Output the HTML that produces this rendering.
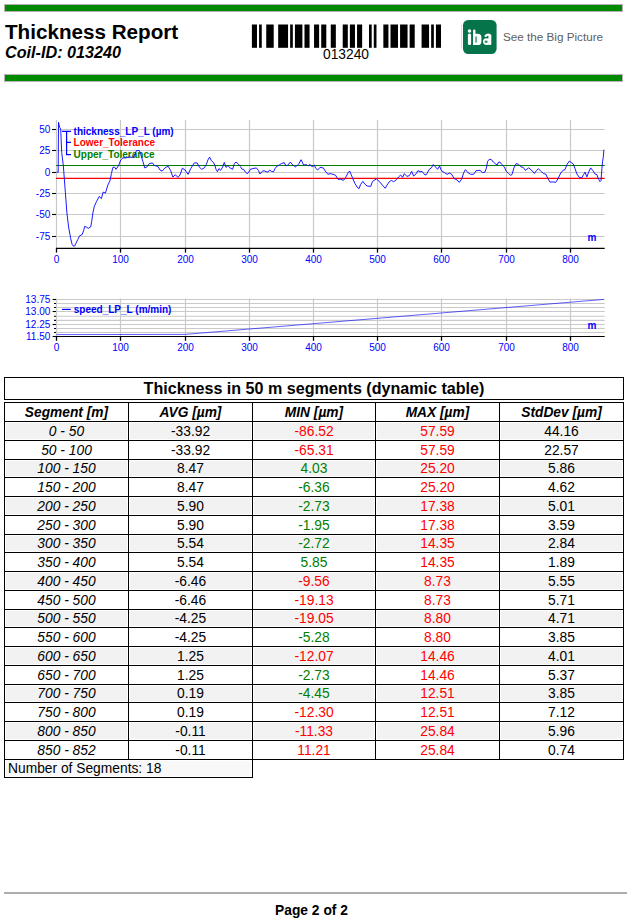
<!DOCTYPE html>
<html><head><meta charset="utf-8"><title>Thickness Report</title>
<style>
html,body{margin:0;padding:0;background:#fff}
body{width:630px;height:923px;position:relative;overflow:hidden;font-family:"Liberation Sans",sans-serif;color:#000}
.abs,.box,.ttl,.bg,.ln,.th,.td,.seg,.ft{position:absolute;white-space:nowrap}
.gbar{position:absolute;left:4px;width:617px;height:6px;background:#008a00;border:1px solid #b9b0b9;box-sizing:content-box}
.box{border:1px solid #000}
.ttl{text-align:center;font-weight:bold;font-size:16.1px}
.bg{background:#f2f2f2}
.ln{background:#000}
.th{text-align:center;font-weight:bold;font-style:italic;font-size:13.75px;height:18px;line-height:18px}
.td{text-align:center;font-size:13.8px;height:18px;line-height:18px}
.seg{text-align:center;font-style:italic;font-size:13.8px;height:18px;line-height:18px}
.ft{font-size:13.8px;height:18px;line-height:18px}
svg{position:absolute;left:0;top:0}
svg text{font-family:"Liberation Sans",sans-serif}
.ax{font-size:10px;fill:#0000ff}
.lg{font-size:10px;font-weight:bold}
</style></head><body>
<div class="gbar" style="top:4px"></div>
<div class="gbar" style="top:74px"></div>
<div class="abs" style="left:5px;top:19.5px;font-size:20.65px;font-weight:bold;line-height:23px">Thickness Report</div>
<div class="abs" style="left:5px;top:43.3px;font-size:16.2px;font-weight:bold;font-style:italic;line-height:18px">Coil-ID: 013240</div>
<div class="abs" style="left:296px;top:47.4px;width:100px;text-align:center;font-size:13.8px;line-height:16px">013240</div>
<div class="abs" style="left:503px;top:30px;font-size:11.7px;line-height:14px;color:#606060">See the Big Picture</div>
<svg width="630" height="923" viewBox="0 0 630 923">
<g fill="#000"><rect x="251.90" y="24.5" width="5.08" height="23.3"/><rect x="259.07" y="24.5" width="2.69" height="23.3"/><rect x="266.24" y="24.5" width="7.47" height="23.3"/><rect x="278.19" y="24.5" width="9.86" height="23.3"/><rect x="290.14" y="24.5" width="2.69" height="23.3"/><rect x="294.92" y="24.5" width="7.47" height="23.3"/><rect x="304.48" y="24.5" width="5.08" height="23.3"/><rect x="314.04" y="24.5" width="5.08" height="23.3"/><rect x="321.21" y="24.5" width="5.08" height="23.3"/><rect x="330.77" y="24.5" width="5.08" height="23.3"/><rect x="342.72" y="24.5" width="5.08" height="23.3"/><rect x="349.89" y="24.5" width="5.08" height="23.3"/><rect x="357.06" y="24.5" width="5.08" height="23.3"/><rect x="369.01" y="24.5" width="2.69" height="23.3"/><rect x="373.79" y="24.5" width="2.69" height="23.3"/><rect x="383.35" y="24.5" width="5.08" height="23.3"/><rect x="390.52" y="24.5" width="7.47" height="23.3"/><rect x="400.08" y="24.5" width="7.47" height="23.3"/><rect x="409.64" y="24.5" width="5.08" height="23.3"/><rect x="421.59" y="24.5" width="7.47" height="23.3"/><rect x="431.15" y="24.5" width="2.69" height="23.3"/><rect x="435.93" y="24.5" width="5.08" height="23.3"/></g>
<line x1="461.6" y1="25" x2="461.6" y2="48.5" stroke="#d0d0d0" stroke-width="0.8"/>
<rect x="463" y="20" width="33.6" height="34" rx="5.2" fill="#06744b"/>
<g fill="#fff" stroke="none">
<circle cx="469.5" cy="30.9" r="1.75"/>
<rect x="467.9" y="33.6" width="3.2" height="11.4" rx="1.5"/>
<rect x="473" y="29.5" width="2.5" height="15.5" rx="1.2"/>
<rect x="473" y="33.8" width="8.4" height="11.2" rx="3.6"/>
<rect x="473" y="40" width="3" height="5" rx="1"/>
<rect x="488.4" y="34.6" width="2.9" height="10.4" rx="1.2"/>
<ellipse cx="486.7" cy="41.6" rx="3.7" ry="3.4"/>
</g>
<rect x="475.3" y="36.2" width="1.5" height="6.6" rx="0.7" fill="#06744b" opacity="0.75"/>
<path d="M485.6,35.9 Q487.6,33.7 490,35.4" fill="none" stroke="#fff" stroke-width="2.3" stroke-linecap="round"/>
<ellipse cx="486.1" cy="41.7" rx="1.6" ry="1.2" fill="#06744b" opacity="0.8"/>
<line x1="120.5" y1="120" x2="120.5" y2="248" stroke="#c9c9c9" stroke-width="1.2"/><line x1="185.5" y1="120" x2="185.5" y2="248" stroke="#c9c9c9" stroke-width="1.2"/><line x1="249.5" y1="120" x2="249.5" y2="248" stroke="#c9c9c9" stroke-width="1.2"/><line x1="313.5" y1="120" x2="313.5" y2="248" stroke="#c9c9c9" stroke-width="1.2"/><line x1="377.5" y1="120" x2="377.5" y2="248" stroke="#c9c9c9" stroke-width="1.2"/><line x1="441.5" y1="120" x2="441.5" y2="248" stroke="#c9c9c9" stroke-width="1.2"/><line x1="506.5" y1="120" x2="506.5" y2="248" stroke="#c9c9c9" stroke-width="1.2"/><line x1="570.5" y1="120" x2="570.5" y2="248" stroke="#c9c9c9" stroke-width="1.2"/><line x1="56" y1="129.5" x2="604.7" y2="129.5" stroke="#c9c9c9" stroke-width="1.2"/><line x1="56" y1="150.5" x2="604.7" y2="150.5" stroke="#c9c9c9" stroke-width="1.2"/><line x1="56" y1="172.5" x2="604.7" y2="172.5" stroke="#c9c9c9" stroke-width="1.2"/><line x1="56" y1="193.5" x2="604.7" y2="193.5" stroke="#c9c9c9" stroke-width="1.2"/><line x1="56" y1="214.5" x2="604.7" y2="214.5" stroke="#c9c9c9" stroke-width="1.2"/><line x1="56" y1="236.5" x2="604.7" y2="236.5" stroke="#c9c9c9" stroke-width="1.2"/><line x1="56.5" y1="120" x2="56.5" y2="248" stroke="#c9c9c9" stroke-width="1.2"/><line x1="56" y1="165.5" x2="604.7" y2="165.5" stroke="#008000" stroke-width="1.1"/><line x1="56" y1="178.4" x2="604.7" y2="178.4" stroke="#ff0000" stroke-width="1.1"/><line x1="56" y1="248.3" x2="604.7" y2="248.3" stroke="#000" stroke-width="1.2"/><line x1="56.5" y1="248" x2="56.5" y2="252.6" stroke="#000" stroke-width="1.3"/><line x1="120.5" y1="248" x2="120.5" y2="252.6" stroke="#000" stroke-width="1.3"/><line x1="185.5" y1="248" x2="185.5" y2="252.6" stroke="#000" stroke-width="1.3"/><line x1="249.5" y1="248" x2="249.5" y2="252.6" stroke="#000" stroke-width="1.3"/><line x1="313.5" y1="248" x2="313.5" y2="252.6" stroke="#000" stroke-width="1.3"/><line x1="377.5" y1="248" x2="377.5" y2="252.6" stroke="#000" stroke-width="1.3"/><line x1="441.5" y1="248" x2="441.5" y2="252.6" stroke="#000" stroke-width="1.3"/><line x1="506.5" y1="248" x2="506.5" y2="252.6" stroke="#000" stroke-width="1.3"/><line x1="570.5" y1="248" x2="570.5" y2="252.6" stroke="#000" stroke-width="1.3"/><line x1="52" y1="129.5" x2="56" y2="129.5" stroke="#000" stroke-width="1.1"/><line x1="52" y1="150.5" x2="56" y2="150.5" stroke="#000" stroke-width="1.1"/><line x1="52" y1="172.5" x2="56" y2="172.5" stroke="#000" stroke-width="1.1"/><line x1="52" y1="193.5" x2="56" y2="193.5" stroke="#000" stroke-width="1.1"/><line x1="52" y1="214.5" x2="56" y2="214.5" stroke="#000" stroke-width="1.1"/><line x1="52" y1="236.5" x2="56" y2="236.5" stroke="#000" stroke-width="1.1"/><text x="50.30" y="133.20" class="ax" text-anchor="end">50</text><text x="50.30" y="154.20" class="ax" text-anchor="end">25</text><text x="50.30" y="176.20" class="ax" text-anchor="end">0</text><text x="50.30" y="197.20" class="ax" text-anchor="end">-25</text><text x="50.30" y="218.20" class="ax" text-anchor="end">-50</text><text x="50.30" y="240.20" class="ax" text-anchor="end">-75</text><text x="56.50" y="262.80" class="ax" text-anchor="middle">0</text><text x="120.50" y="262.80" class="ax" text-anchor="middle">100</text><text x="185.50" y="262.80" class="ax" text-anchor="middle">200</text><text x="249.50" y="262.80" class="ax" text-anchor="middle">300</text><text x="313.50" y="262.80" class="ax" text-anchor="middle">400</text><text x="377.50" y="262.80" class="ax" text-anchor="middle">500</text><text x="441.50" y="262.80" class="ax" text-anchor="middle">600</text><text x="506.50" y="262.80" class="ax" text-anchor="middle">700</text><text x="570.50" y="262.80" class="ax" text-anchor="middle">800</text><path d="M62,131.4 H71 M66.6,131.4 V154.6 H71 M66.6,142.4 H71" fill="none" stroke="#0000ff" stroke-width="1.2"/><text x="73.60" y="134.90" class="lg" fill="#0000ff">thickness_LP_L (µm)</text><text x="73.60" y="146.00" class="lg" fill="#ff0000">Lower_Tolerance</text><text x="73.60" y="157.60" class="lg" fill="#008000">Upper_Tolerance</text><text x="587.60" y="240.80" class="lg" fill="#0000ff">m</text><path d="M56.5,172.2 L58.2,172.2 L58.5,122.2 L59.0,124.5 L59.8,127.7 L60.7,129.0 L61.7,152.4 L63.3,165.4 L64.3,178.6 L65.4,192.9 L66.9,212.9 L68.6,227.0 L70.7,238.6 L72.1,244.3 L73.0,245.8 L74.0,246.2 L74.8,245.8 L75.7,243.8 L77.9,239.3 L79.7,235.7 L82.1,234.6 L83.6,230.7 L84.7,226.4 L86.4,227.1 L88.3,228.3 L90.7,226.9 L91.7,221.4 L92.9,212.9 L94.3,206.4 L96.4,201.7 L99.3,196.4 L101.4,198.6 L103.1,192.1 L105.4,193.1 L107.9,185.0 L110.0,180.7 L111.4,173.6 L112.9,167.4 L114.6,167.1 L116.0,169.3 L118.6,165.7 L120.7,160.0 L122.9,157.9 L125.7,157.9 L129.3,156.9 L132.1,157.4 L134.3,156.4 L136.4,150.7 L139.3,150.4 L140.7,154.3 L142.9,161.4 L144.7,167.9 L146.7,167.1 L149.3,163.6 L152.4,162.9 L154.3,165.4 L157.9,166.4 L160.0,170.0 L162.1,171.1 L165.0,167.9 L168.1,166.1 L170.7,170.7 L172.9,177.1 L175.3,174.7 L177.9,177.4 L180.0,175.0 L182.4,168.1 L185.0,170.0 L188.1,174.3 L190.7,168.6 L194.3,162.9 L197.1,162.9 L199.3,167.1 L201.7,169.3 L204.3,167.9 L206.4,164.3 L207.9,160.0 L209.6,157.1 L211.4,160.7 L213.6,162.6 L215.0,165.7 L216.0,169.3 L217.4,171.7 L218.9,168.6 L220.7,170.3 L222.6,167.1 L224.3,162.4 L226.0,167.4 L227.9,165.7 L230.0,167.9 L232.6,169.3 L234.3,163.6 L236.0,162.1 L238.3,164.0 L240.3,166.4 L242.1,169.3 L243.6,169.3 L245.4,172.1 L247.1,173.6 L248.9,172.1 L250.3,169.3 L252.9,168.6 L256.4,167.9 L258.6,170.7 L260.0,174.0 L262.1,171.4 L264.0,170.7 L266.0,171.7 L267.9,172.1 L269.7,170.0 L271.4,171.4 L273.6,171.7 L275.0,168.6 L277.1,166.0 L279.3,165.0 L281.4,163.6 L284.3,162.6 L285.7,165.7 L287.6,165.4 L290.3,162.1 L292.9,165.0 L295.3,166.9 L298.6,164.3 L301.1,159.7 L303.6,165.0 L306.4,164.6 L308.1,166.0 L310.0,164.3 L312.1,166.9 L314.3,165.0 L315.7,168.3 L317.6,170.0 L320.0,167.4 L323.3,167.9 L325.3,171.1 L327.9,174.3 L330.0,173.6 L332.9,174.3 L335.7,175.4 L337.9,179.3 L340.7,179.3 L343.6,180.3 L345.7,177.4 L347.9,173.1 L349.6,171.0 L351.1,174.3 L352.9,178.9 L355.0,183.6 L357.1,187.1 L359.0,188.6 L360.7,184.3 L362.9,181.4 L365.0,184.3 L367.1,186.0 L370.7,186.4 L372.5,181.4 L376.4,178.9 L379.3,181.4 L382.9,185.7 L385.3,188.3 L387.1,185.0 L389.3,181.7 L391.4,180.4 L393.6,181.7 L396.4,179.7 L398.6,176.9 L400.7,175.0 L402.6,177.4 L404.3,173.6 L406.9,176.4 L409.3,175.7 L411.7,171.4 L413.6,176.0 L415.7,174.3 L417.9,170.7 L420.0,171.7 L422.1,171.4 L425.0,175.0 L426.4,174.6 L429.3,169.3 L431.4,167.9 L433.3,164.6 L435.7,167.1 L437.6,169.3 L439.6,166.0 L441.4,170.7 L444.3,172.6 L447.1,174.3 L449.3,173.1 L451.4,174.0 L454.3,178.6 L457.1,180.0 L459.3,182.4 L461.9,178.6 L463.6,172.9 L465.4,169.6 L467.9,172.6 L470.7,174.3 L473.6,174.3 L476.1,170.7 L480.0,170.3 L482.4,172.6 L485.0,172.1 L486.4,167.9 L487.6,161.4 L489.3,159.3 L491.4,159.6 L493.3,162.1 L495.7,164.0 L497.1,165.0 L498.6,162.1 L500.0,162.1 L501.9,164.6 L504.3,166.9 L506.1,171.1 L508.6,173.6 L510.7,175.4 L512.1,174.3 L513.9,167.9 L516.1,163.6 L518.6,164.3 L521.0,166.9 L523.3,167.4 L525.4,170.3 L528.6,167.9 L531.4,170.0 L534.4,173.4 L536.4,170.7 L538.3,168.7 L540.7,171.1 L543.6,173.6 L545.7,174.0 L547.9,178.6 L550.0,182.1 L552.9,181.9 L555.7,182.4 L557.9,178.9 L560.7,173.1 L562.9,170.4 L565.0,169.6 L567.1,164.3 L569.3,161.1 L571.4,162.6 L573.3,164.0 L575.0,168.6 L576.9,174.0 L579.3,177.4 L581.7,177.9 L583.6,174.6 L585.0,172.1 L586.9,176.9 L588.6,172.1 L590.7,167.9 L592.9,170.7 L595.0,174.0 L596.9,174.7 L598.6,179.3 L600.0,181.7 L601.0,180.7 L601.9,168.6 L602.6,161.4 L603.3,157.1 L603.9,149.7" fill="none" stroke="#0000ff" stroke-width="0.9" stroke-linejoin="round"/>
<line x1="120.5" y1="298.5" x2="120.5" y2="336.5" stroke="#c9c9c9" stroke-width="1.2"/><line x1="185.5" y1="298.5" x2="185.5" y2="336.5" stroke="#c9c9c9" stroke-width="1.2"/><line x1="249.5" y1="298.5" x2="249.5" y2="336.5" stroke="#c9c9c9" stroke-width="1.2"/><line x1="313.5" y1="298.5" x2="313.5" y2="336.5" stroke="#c9c9c9" stroke-width="1.2"/><line x1="377.5" y1="298.5" x2="377.5" y2="336.5" stroke="#c9c9c9" stroke-width="1.2"/><line x1="441.5" y1="298.5" x2="441.5" y2="336.5" stroke="#c9c9c9" stroke-width="1.2"/><line x1="506.5" y1="298.5" x2="506.5" y2="336.5" stroke="#c9c9c9" stroke-width="1.2"/><line x1="570.5" y1="298.5" x2="570.5" y2="336.5" stroke="#c9c9c9" stroke-width="1.2"/><line x1="56" y1="299.5" x2="604.7" y2="299.5" stroke="#c9c9c9" stroke-width="1.1"/><line x1="56" y1="303.5" x2="604.7" y2="303.5" stroke="#c9c9c9" stroke-width="1.1"/><line x1="56" y1="307.5" x2="604.7" y2="307.5" stroke="#c9c9c9" stroke-width="1.1"/><line x1="56" y1="311.5" x2="604.7" y2="311.5" stroke="#c9c9c9" stroke-width="1.1"/><line x1="56" y1="316.3" x2="604.7" y2="316.3" stroke="#c9c9c9" stroke-width="1.1"/><line x1="56" y1="320.4" x2="604.7" y2="320.4" stroke="#c9c9c9" stroke-width="1.1"/><line x1="56" y1="324.5" x2="604.7" y2="324.5" stroke="#c9c9c9" stroke-width="1.1"/><line x1="56" y1="328.5" x2="604.7" y2="328.5" stroke="#c9c9c9" stroke-width="1.1"/><line x1="56" y1="332.5" x2="604.7" y2="332.5" stroke="#c9c9c9" stroke-width="1.1"/><line x1="56.5" y1="298.5" x2="56.5" y2="336.5" stroke="#c9c9c9" stroke-width="1.2"/><line x1="56" y1="336.5" x2="604.7" y2="336.5" stroke="#000" stroke-width="1.2"/><line x1="56.5" y1="336" x2="56.5" y2="340.8" stroke="#000" stroke-width="1.3"/><line x1="120.5" y1="336" x2="120.5" y2="340.8" stroke="#000" stroke-width="1.3"/><line x1="185.5" y1="336" x2="185.5" y2="340.8" stroke="#000" stroke-width="1.3"/><line x1="249.5" y1="336" x2="249.5" y2="340.8" stroke="#000" stroke-width="1.3"/><line x1="313.5" y1="336" x2="313.5" y2="340.8" stroke="#000" stroke-width="1.3"/><line x1="377.5" y1="336" x2="377.5" y2="340.8" stroke="#000" stroke-width="1.3"/><line x1="441.5" y1="336" x2="441.5" y2="340.8" stroke="#000" stroke-width="1.3"/><line x1="506.5" y1="336" x2="506.5" y2="340.8" stroke="#000" stroke-width="1.3"/><line x1="570.5" y1="336" x2="570.5" y2="340.8" stroke="#000" stroke-width="1.3"/><line x1="52.6" y1="299.5" x2="56" y2="299.5" stroke="#000" stroke-width="1.1"/><line x1="54" y1="303.5" x2="56" y2="303.5" stroke="#000" stroke-width="1.1"/><line x1="54" y1="307.5" x2="56" y2="307.5" stroke="#000" stroke-width="1.1"/><line x1="52.6" y1="311.5" x2="56" y2="311.5" stroke="#000" stroke-width="1.1"/><line x1="54" y1="316.3" x2="56" y2="316.3" stroke="#000" stroke-width="1.1"/><line x1="54" y1="320.4" x2="56" y2="320.4" stroke="#000" stroke-width="1.1"/><line x1="52.6" y1="324.5" x2="56" y2="324.5" stroke="#000" stroke-width="1.1"/><line x1="54" y1="328.5" x2="56" y2="328.5" stroke="#000" stroke-width="1.1"/><line x1="54" y1="332.5" x2="56" y2="332.5" stroke="#000" stroke-width="1.1"/><line x1="52.6" y1="336.5" x2="56" y2="336.5" stroke="#000" stroke-width="1.1"/><text x="50.30" y="303.20" class="ax" text-anchor="end">13.75</text><text x="50.30" y="315.20" class="ax" text-anchor="end">13.00</text><text x="50.30" y="328.20" class="ax" text-anchor="end">12.25</text><text x="50.30" y="340.20" class="ax" text-anchor="end">11.50</text><text x="56.50" y="350.80" class="ax" text-anchor="middle">0</text><text x="120.50" y="350.80" class="ax" text-anchor="middle">100</text><text x="185.50" y="350.80" class="ax" text-anchor="middle">200</text><text x="249.50" y="350.80" class="ax" text-anchor="middle">300</text><text x="313.50" y="350.80" class="ax" text-anchor="middle">400</text><text x="377.50" y="350.80" class="ax" text-anchor="middle">500</text><text x="441.50" y="350.80" class="ax" text-anchor="middle">600</text><text x="506.50" y="350.80" class="ax" text-anchor="middle">700</text><text x="570.50" y="350.80" class="ax" text-anchor="middle">800</text><line x1="62" y1="309.4" x2="70.8" y2="309.4" stroke="#0000ff" stroke-width="1.2"/><text x="73.80" y="313.00" class="lg" fill="#0000ff">speed_LP_L (m/min)</text><text x="587.60" y="329.30" class="lg" fill="#0000ff">m</text><path d="M56.5,334.6 L185,334.4 L604,299.4" fill="none" stroke="#0000ff" stroke-width="0.9" opacity="0.7"/>
</svg>
<div class="box" style="left:4px;top:377px;width:618px;height:21px"></div><div class="ttl" style="left:4px;top:377.2px;width:620px;height:22px;line-height:22px">Thickness in 50 m segments (dynamic table)</div><div class="bg" style="left:6px;top:423px;width:121px;height:16px"></div><div class="bg" style="left:130px;top:423px;width:121px;height:16px"></div><div class="bg" style="left:254px;top:423px;width:120px;height:16px"></div><div class="bg" style="left:377px;top:423px;width:121px;height:16px"></div><div class="bg" style="left:501px;top:423px;width:121px;height:16px"></div><div class="bg" style="left:6px;top:461px;width:121px;height:15px"></div><div class="bg" style="left:130px;top:461px;width:121px;height:15px"></div><div class="bg" style="left:254px;top:461px;width:120px;height:15px"></div><div class="bg" style="left:377px;top:461px;width:121px;height:15px"></div><div class="bg" style="left:501px;top:461px;width:121px;height:15px"></div><div class="bg" style="left:6px;top:498px;width:121px;height:16px"></div><div class="bg" style="left:130px;top:498px;width:121px;height:16px"></div><div class="bg" style="left:254px;top:498px;width:120px;height:16px"></div><div class="bg" style="left:377px;top:498px;width:121px;height:16px"></div><div class="bg" style="left:501px;top:498px;width:121px;height:16px"></div><div class="bg" style="left:6px;top:536px;width:121px;height:15px"></div><div class="bg" style="left:130px;top:536px;width:121px;height:15px"></div><div class="bg" style="left:254px;top:536px;width:120px;height:15px"></div><div class="bg" style="left:377px;top:536px;width:121px;height:15px"></div><div class="bg" style="left:501px;top:536px;width:121px;height:15px"></div><div class="bg" style="left:6px;top:573px;width:121px;height:16px"></div><div class="bg" style="left:130px;top:573px;width:121px;height:16px"></div><div class="bg" style="left:254px;top:573px;width:120px;height:16px"></div><div class="bg" style="left:377px;top:573px;width:121px;height:16px"></div><div class="bg" style="left:501px;top:573px;width:121px;height:16px"></div><div class="bg" style="left:6px;top:611px;width:121px;height:15px"></div><div class="bg" style="left:130px;top:611px;width:121px;height:15px"></div><div class="bg" style="left:254px;top:611px;width:120px;height:15px"></div><div class="bg" style="left:377px;top:611px;width:121px;height:15px"></div><div class="bg" style="left:501px;top:611px;width:121px;height:15px"></div><div class="bg" style="left:6px;top:648px;width:121px;height:16px"></div><div class="bg" style="left:130px;top:648px;width:121px;height:16px"></div><div class="bg" style="left:254px;top:648px;width:120px;height:16px"></div><div class="bg" style="left:377px;top:648px;width:121px;height:16px"></div><div class="bg" style="left:501px;top:648px;width:121px;height:16px"></div><div class="bg" style="left:6px;top:686px;width:121px;height:15px"></div><div class="bg" style="left:130px;top:686px;width:121px;height:15px"></div><div class="bg" style="left:254px;top:686px;width:120px;height:15px"></div><div class="bg" style="left:377px;top:686px;width:121px;height:15px"></div><div class="bg" style="left:501px;top:686px;width:121px;height:15px"></div><div class="bg" style="left:6px;top:723px;width:121px;height:16px"></div><div class="bg" style="left:130px;top:723px;width:121px;height:16px"></div><div class="bg" style="left:254px;top:723px;width:120px;height:16px"></div><div class="bg" style="left:377px;top:723px;width:121px;height:16px"></div><div class="bg" style="left:501px;top:723px;width:121px;height:16px"></div><div class="ln" style="left:4px;top:402px;width:620px;height:1px"></div><div class="ln" style="left:4px;top:421px;width:620px;height:1px"></div><div class="ln" style="left:4px;top:440px;width:620px;height:1px"></div><div class="ln" style="left:4px;top:459px;width:620px;height:1px"></div><div class="ln" style="left:4px;top:477px;width:620px;height:1px"></div><div class="ln" style="left:4px;top:496px;width:620px;height:1px"></div><div class="ln" style="left:4px;top:515px;width:620px;height:1px"></div><div class="ln" style="left:4px;top:534px;width:620px;height:1px"></div><div class="ln" style="left:4px;top:552px;width:620px;height:1px"></div><div class="ln" style="left:4px;top:571px;width:620px;height:1px"></div><div class="ln" style="left:4px;top:590px;width:620px;height:1px"></div><div class="ln" style="left:4px;top:609px;width:620px;height:1px"></div><div class="ln" style="left:4px;top:627px;width:620px;height:1px"></div><div class="ln" style="left:4px;top:646px;width:620px;height:1px"></div><div class="ln" style="left:4px;top:665px;width:620px;height:1px"></div><div class="ln" style="left:4px;top:684px;width:620px;height:1px"></div><div class="ln" style="left:4px;top:702px;width:620px;height:1px"></div><div class="ln" style="left:4px;top:721px;width:620px;height:1px"></div><div class="ln" style="left:4px;top:740px;width:620px;height:1px"></div><div class="ln" style="left:4px;top:759px;width:620px;height:1px"></div><div class="ln" style="left:4px;top:402px;width:1px;height:358px"></div><div class="ln" style="left:128px;top:402px;width:1px;height:358px"></div><div class="ln" style="left:252px;top:402px;width:1px;height:358px"></div><div class="ln" style="left:375px;top:402px;width:1px;height:358px"></div><div class="ln" style="left:499px;top:402px;width:1px;height:358px"></div><div class="ln" style="left:623px;top:402px;width:1px;height:358px"></div><div class="ln" style="left:4px;top:759px;width:1px;height:19px"></div><div class="ln" style="left:252px;top:759px;width:1px;height:19px"></div><div class="ln" style="left:4px;top:777px;width:249px;height:1px"></div><div class="th" style="left:5px;top:403.7px;width:123px">Segment [m]</div><div class="th" style="left:129px;top:403.7px;width:123px">AVG [µm]</div><div class="th" style="left:253px;top:403.7px;width:122px">MIN [µm]</div><div class="th" style="left:376px;top:403.7px;width:123px">MAX [µm]</div><div class="th" style="left:500px;top:403.7px;width:123px">StdDev [µm]</div><div class="seg" style="left:5px;top:422.9px;width:123px">0 - 50</div><div class="td" style="left:129px;top:422.9px;width:123px">-33.92</div><div class="td" style="left:253px;top:422.9px;width:122px;color:#ff0000">-86.52</div><div class="td" style="left:376px;top:422.9px;width:123px;color:#ff0000">57.59</div><div class="td" style="left:500px;top:422.9px;width:123px">44.16</div><div class="seg" style="left:5px;top:441.9px;width:123px">50 - 100</div><div class="td" style="left:129px;top:441.9px;width:123px">-33.92</div><div class="td" style="left:253px;top:441.9px;width:122px;color:#ff0000">-65.31</div><div class="td" style="left:376px;top:441.9px;width:123px;color:#ff0000">57.59</div><div class="td" style="left:500px;top:441.9px;width:123px">22.57</div><div class="seg" style="left:5px;top:459.9px;width:123px">100 - 150</div><div class="td" style="left:129px;top:459.9px;width:123px">8.47</div><div class="td" style="left:253px;top:459.9px;width:122px;color:#008000">4.03</div><div class="td" style="left:376px;top:459.9px;width:123px;color:#ff0000">25.20</div><div class="td" style="left:500px;top:459.9px;width:123px">5.86</div><div class="seg" style="left:5px;top:478.9px;width:123px">150 - 200</div><div class="td" style="left:129px;top:478.9px;width:123px">8.47</div><div class="td" style="left:253px;top:478.9px;width:122px;color:#008000">-6.36</div><div class="td" style="left:376px;top:478.9px;width:123px;color:#ff0000">25.20</div><div class="td" style="left:500px;top:478.9px;width:123px">4.62</div><div class="seg" style="left:5px;top:497.9px;width:123px">200 - 250</div><div class="td" style="left:129px;top:497.9px;width:123px">5.90</div><div class="td" style="left:253px;top:497.9px;width:122px;color:#008000">-2.73</div><div class="td" style="left:376px;top:497.9px;width:123px;color:#ff0000">17.38</div><div class="td" style="left:500px;top:497.9px;width:123px">5.01</div><div class="seg" style="left:5px;top:516.9px;width:123px">250 - 300</div><div class="td" style="left:129px;top:516.9px;width:123px">5.90</div><div class="td" style="left:253px;top:516.9px;width:122px;color:#008000">-1.95</div><div class="td" style="left:376px;top:516.9px;width:123px;color:#ff0000">17.38</div><div class="td" style="left:500px;top:516.9px;width:123px">3.59</div><div class="seg" style="left:5px;top:534.9px;width:123px">300 - 350</div><div class="td" style="left:129px;top:534.9px;width:123px">5.54</div><div class="td" style="left:253px;top:534.9px;width:122px;color:#008000">-2.72</div><div class="td" style="left:376px;top:534.9px;width:123px;color:#ff0000">14.35</div><div class="td" style="left:500px;top:534.9px;width:123px">2.84</div><div class="seg" style="left:5px;top:553.9px;width:123px">350 - 400</div><div class="td" style="left:129px;top:553.9px;width:123px">5.54</div><div class="td" style="left:253px;top:553.9px;width:122px;color:#008000">5.85</div><div class="td" style="left:376px;top:553.9px;width:123px;color:#ff0000">14.35</div><div class="td" style="left:500px;top:553.9px;width:123px">1.89</div><div class="seg" style="left:5px;top:572.9px;width:123px">400 - 450</div><div class="td" style="left:129px;top:572.9px;width:123px">-6.46</div><div class="td" style="left:253px;top:572.9px;width:122px;color:#ff0000">-9.56</div><div class="td" style="left:376px;top:572.9px;width:123px;color:#ff0000">8.73</div><div class="td" style="left:500px;top:572.9px;width:123px">5.55</div><div class="seg" style="left:5px;top:591.9px;width:123px">450 - 500</div><div class="td" style="left:129px;top:591.9px;width:123px">-6.46</div><div class="td" style="left:253px;top:591.9px;width:122px;color:#ff0000">-19.13</div><div class="td" style="left:376px;top:591.9px;width:123px;color:#ff0000">8.73</div><div class="td" style="left:500px;top:591.9px;width:123px">5.71</div><div class="seg" style="left:5px;top:609.9px;width:123px">500 - 550</div><div class="td" style="left:129px;top:609.9px;width:123px">-4.25</div><div class="td" style="left:253px;top:609.9px;width:122px;color:#ff0000">-19.05</div><div class="td" style="left:376px;top:609.9px;width:123px;color:#ff0000">8.80</div><div class="td" style="left:500px;top:609.9px;width:123px">4.71</div><div class="seg" style="left:5px;top:628.9px;width:123px">550 - 600</div><div class="td" style="left:129px;top:628.9px;width:123px">-4.25</div><div class="td" style="left:253px;top:628.9px;width:122px;color:#008000">-5.28</div><div class="td" style="left:376px;top:628.9px;width:123px;color:#ff0000">8.80</div><div class="td" style="left:500px;top:628.9px;width:123px">3.85</div><div class="seg" style="left:5px;top:647.9px;width:123px">600 - 650</div><div class="td" style="left:129px;top:647.9px;width:123px">1.25</div><div class="td" style="left:253px;top:647.9px;width:122px;color:#ff0000">-12.07</div><div class="td" style="left:376px;top:647.9px;width:123px;color:#ff0000">14.46</div><div class="td" style="left:500px;top:647.9px;width:123px">4.01</div><div class="seg" style="left:5px;top:666.9px;width:123px">650 - 700</div><div class="td" style="left:129px;top:666.9px;width:123px">1.25</div><div class="td" style="left:253px;top:666.9px;width:122px;color:#008000">-2.73</div><div class="td" style="left:376px;top:666.9px;width:123px;color:#ff0000">14.46</div><div class="td" style="left:500px;top:666.9px;width:123px">5.37</div><div class="seg" style="left:5px;top:684.9px;width:123px">700 - 750</div><div class="td" style="left:129px;top:684.9px;width:123px">0.19</div><div class="td" style="left:253px;top:684.9px;width:122px;color:#008000">-4.45</div><div class="td" style="left:376px;top:684.9px;width:123px;color:#ff0000">12.51</div><div class="td" style="left:500px;top:684.9px;width:123px">3.85</div><div class="seg" style="left:5px;top:703.9px;width:123px">750 - 800</div><div class="td" style="left:129px;top:703.9px;width:123px">0.19</div><div class="td" style="left:253px;top:703.9px;width:122px;color:#ff0000">-12.30</div><div class="td" style="left:376px;top:703.9px;width:123px;color:#ff0000">12.51</div><div class="td" style="left:500px;top:703.9px;width:123px">7.12</div><div class="seg" style="left:5px;top:722.9px;width:123px">800 - 850</div><div class="td" style="left:129px;top:722.9px;width:123px">-0.11</div><div class="td" style="left:253px;top:722.9px;width:122px;color:#ff0000">-11.33</div><div class="td" style="left:376px;top:722.9px;width:123px;color:#ff0000">25.84</div><div class="td" style="left:500px;top:722.9px;width:123px">5.96</div><div class="seg" style="left:5px;top:741.9px;width:123px">850 - 852</div><div class="td" style="left:129px;top:741.9px;width:123px">-0.11</div><div class="td" style="left:253px;top:741.9px;width:122px;color:#ff0000">11.21</div><div class="td" style="left:376px;top:741.9px;width:123px;color:#ff0000">25.84</div><div class="td" style="left:500px;top:741.9px;width:123px">0.74</div><div class="bg" style="left:6px;top:761px;width:245px;height:15px;background:#f8f8f8"></div><div class="ft" style="left:8px;top:760.3px">Number of Segments: 18</div>
<div class="abs" style="left:4px;top:892px;width:623px;height:2px;background:#adadad"></div>
<div class="abs" style="left:0;top:903px;width:623px;text-align:center;font-size:13.8px;font-weight:bold;line-height:16px">Page 2 of 2</div>
</body></html>
